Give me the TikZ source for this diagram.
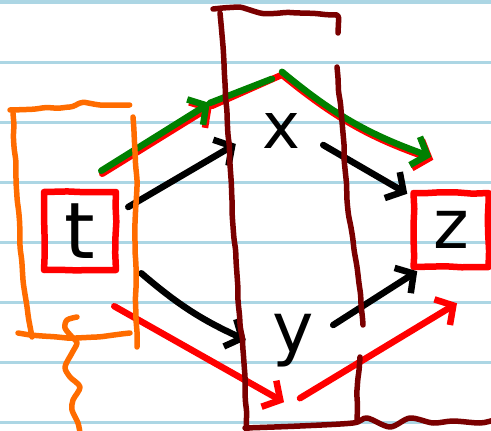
\documentclass[tikz,border=0pt]{standalone}
\usepackage{fontspec}
\newfontfamily\handfont{DejaVu Sans}
\usepackage{tikz}
\usetikzlibrary{positioning,calc,arrows.meta,decorations.pathmorphing}

\definecolor{paperblue}{RGB}{172,214,228}
\definecolor{penorange}{RGB}{255,108,0}
\definecolor{penred}{RGB}{255,0,0}
\definecolor{pengreen}{RGB}{0,128,0}
\definecolor{penmaroon}{RGB}{122,0,0}

\tikzset{
  ink/.style={line width=6.5pt, line cap=round, line join=round},
  barb/.style={-{Straight Barb[length=13pt,width=30pt]}},
  letter/.style={font=\handfont\fontsize{#1}{#1}\selectfont, inner sep=0pt,
    minimum width=60pt, minimum height=50pt},
  penbox/.style={draw=penred, ink, decorate,
    decoration={random steps,segment length=16pt,amplitude=0.8pt}},
  wobbly/.style={ink, line width=5.5pt, decorate,
    decoration={random steps,segment length=12pt,amplitude=0.8pt}, rounded corners=3pt},
}

\begin{document}
\begin{tikzpicture}[x=1pt, y=-1pt]
  \pgfmathsetseed{7}
  \useasboundingbox (0,0) rectangle (491,431);
  % ruled paper
  \foreach \ly in {2,62,...,422}
    \draw[paperblue, line width=3pt] (0,\ly) -- (491,\ly);

  % letters and the red boxes
  \node[penbox, letter=78, minimum width=72pt, minimum height=78pt] (t) at (80,231) {t};
  \node[letter=64] (x) at (281,131) {x};
  \node[letter=70, minimum height=60pt] (y) at (293,341) {y};
  \node[penbox, letter=68, minimum width=75pt, minimum height=74pt] (z) at (451,230) {z};

  % black arrows
  \draw[ink, barb] ($(t.east)+(9,-24)$) -- ($(x.west)+(-15,13)$);
  \draw[ink, barb] ($(t.south east)+(22,0)$) to[bend right=8] ($(y.west)+(-17,-1)$);
  \draw[ink, barb] ($(x.east)+(12,14)$) -- ($(z.north west)+(-3,4)$);
  \draw[ink, barb] ($(y.east)+(10,-16)$) -- ($(z.south west)+(7,1)$);

  % red path below
  \draw[ink, penred, barb] ($(t.south east)+(-5,33)$) -- ($(y.south)+(-9,31)$);
  \draw[ink, penred, barb] ($(y.south)+(7,27)$) -- ($(z.south)+(6,33)$);

  % green path above, red underneath
  \coordinate (g1) at ($(t.north east)+(-18,-18)$);
  \coordinate (g2) at ($(x.west)+(-41,-28)$);
  \coordinate (g3) at ($(x.north)+(-9,-27)$);
  \coordinate (g4) at ($(x.north)+(1,-34)$);
  \coordinate (g5) at ($(z.north west)+(21,-33)$);
  \draw[ink, penred, barb] ($(g1)+(1,3)$) -- ($(g2)+(2,3)$);
  \draw[ink, penred] ($(g2)+(2,3)$) -- ($(g4)+(0,3)$);
  \draw[ink, penred, barb] ($(g4)+(0,3)$) to[bend right=10] ($(g5)+(2,3)$);
  \draw[ink, pengreen, barb] (g1) -- (g2);
  \draw[ink, pengreen] (g2) -- (g3);
  \draw[ink, pengreen, barb] (g4) to[bend right=10] (g5);

  % orange box round t
  \draw[penorange, wobbly] (10,110) -- (70,107) -- (80,103) -- (100,105) -- (115,105) -- (128,112);
  \draw[penorange, wobbly] (13,113) -- (17,197) -- (23,280) -- (32,337);
  \draw[penorange, wobbly] (133,117) -- (137,180) -- (135,247) -- (137,347);
  \draw[penorange, wobbly] (18,333) -- (57,337) -- (67,338) -- (97,337) -- (130,333);
  \draw[penorange, ink, line width=5.5pt] plot[smooth] coordinates {(77,317) (67,320) (65,328) (72,337)
    (77,343) (72,353) (65,367) (70,377) (80,387) (73,400) (72,410) (78,423) (80,433)};

  % dark red box round x and y
  \draw[penmaroon, wobbly] (213,9) -- (237,7) -- (260,13) -- (300,13) -- (337,15) -- (338,33);
  \draw[penmaroon, wobbly] (220,13) -- (225,83) -- (232,200) -- (238,300) -- (243,350) -- (247,432);
  \draw[penmaroon, wobbly] (337,67) -- (343,133) -- (347,200) -- (357,267) -- (363,325);
  \draw[penmaroon, wobbly] (360,357) -- (357,390) -- (357,422);
  \draw[penmaroon, ink, line width=5.5pt] plot[smooth] coordinates {(245,428) (300,426) (353,423)
    (367,418) (390,427) (410,418) (433,423) (453,421) (480,423) (494,420)};
\end{tikzpicture}
\end{document}
